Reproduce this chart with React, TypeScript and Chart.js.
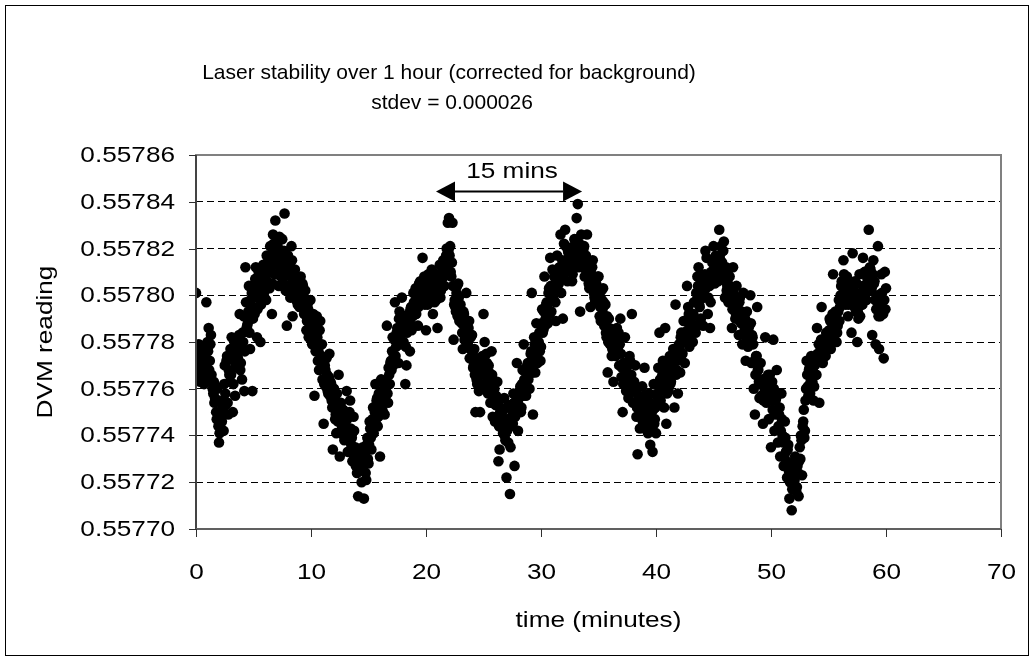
import { useEffect, useRef } from "react";
import { Chart, registerables } from "chart.js";

Chart.register(...registerables);

const titleLines = ["Laser stability over 1 hour (corrected for background)", "stdev = 0.000026"];
const xAxisTitle = "time (minutes)";
const yAxisTitle = "DVM reading";
const xTickValues = [0, 10, 20, 30, 40, 50, 60, 70];
const xTickLabels = ["0", "10", "20", "30", "40", "50", "60", "70"];
const yTickValues = [0.5577, 0.55772, 0.55774, 0.55776, 0.55778, 0.5578, 0.55782, 0.55784, 0.55786];
const yTickLabels = ["0.55770", "0.55772", "0.55774", "0.55776", "0.55778", "0.55780", "0.55782", "0.55784", "0.55786"];
const annotationLabel = "15 mins";
const annotationStartMin = 20.87;
const annotationEndMin = 33.57;
const annotationArrowReading = 0.5578444;
const annotationTextReading = 0.5578528;

// readings taken on the whole tenth of a minute
const sampleTimesA = [
  0, 0.1, 0.2, 0.3, 0.4, 0.5, 0.6, 0.7, 0.8, 0.9,
  1, 1.1, 1.2, 1.3, 1.4, 1.5, 1.6, 1.7, 1.8, 1.9,
  2, 2.1, 2.2, 2.3, 2.4, 2.5, 2.6, 2.7, 2.8, 2.9,
  3, 3.1, 3.2, 3.3, 3.4, 3.5, 3.6, 3.7, 3.8, 3.9,
  4, 4.1, 4.2, 4.3, 4.4, 4.5, 4.6, 4.7, 4.8, 4.9,
  5, 5.1, 5.2, 5.3, 5.4, 5.5, 5.6, 5.7, 5.8, 5.9,
  6, 6.1, 6.2, 6.3, 6.4, 6.5, 6.6, 6.7, 6.8, 6.9,
  7, 7.1, 7.2, 7.3, 7.4, 7.5, 7.6, 7.7, 7.8, 7.9,
  8, 8.1, 8.2, 8.3, 8.4, 8.5, 8.6, 8.7, 8.8, 8.9,
  9, 9.1, 9.2, 9.3, 9.4, 9.5, 9.6, 9.7, 9.8, 9.9,
  10, 10.1, 10.2, 10.3, 10.4, 10.5, 10.6, 10.7, 10.8, 10.9,
  11, 11.1, 11.2, 11.3, 11.4, 11.5, 11.6, 11.7, 11.8, 11.9,
  12, 12.1, 12.2, 12.3, 12.4, 12.5, 12.6, 12.7, 12.8, 12.9,
  13, 13.1, 13.2, 13.3, 13.4, 13.5, 13.6, 13.7, 13.8, 13.9,
  14, 14.1, 14.2, 14.3, 14.4, 14.5, 14.6, 14.7, 14.8, 14.9,
  15, 15.1, 15.2, 15.3, 15.4, 15.5, 15.6, 15.7, 15.8, 15.9,
  16, 16.1, 16.2, 16.3, 16.4, 16.5, 16.6, 16.7, 16.8, 16.9,
  17, 17.1, 17.2, 17.3, 17.4, 17.5, 17.6, 17.7, 17.8, 17.9,
  18, 18.1, 18.2, 18.3, 18.4, 18.5, 18.6, 18.7, 18.8, 18.9,
  19, 19.1, 19.2, 19.3, 19.4, 19.5, 19.6, 19.7, 19.8, 19.9,
  20, 20.1, 20.2, 20.3, 20.4, 20.5, 20.6, 20.7, 20.8, 20.9,
  21, 21.1, 21.2, 21.3, 21.4, 21.5, 21.6, 21.7, 21.8, 21.9,
  22, 22.1, 22.2, 22.3, 22.4, 22.5, 22.6, 22.7, 22.8, 22.9,
  23, 23.1, 23.2, 23.3, 23.4, 23.5, 23.6, 23.7, 23.8, 23.9,
  24, 24.1, 24.2, 24.3, 24.4, 24.5, 24.6, 24.7, 24.8, 24.9,
  25, 25.1, 25.2, 25.3, 25.4, 25.5, 25.6, 25.7, 25.8, 25.9,
  26, 26.1, 26.2, 26.3, 26.4, 26.5, 26.6, 26.7, 26.8, 26.9,
  27, 27.1, 27.2, 27.3, 27.4, 27.5, 27.6, 27.7, 27.8, 27.9,
  28, 28.1, 28.2, 28.3, 28.4, 28.5, 28.6, 28.7, 28.8, 28.9,
  29, 29.1, 29.2, 29.3, 29.4, 29.5, 29.6, 29.7, 29.8, 29.9,
  30, 30.1, 30.2, 30.3, 30.4, 30.5, 30.6, 30.7, 30.8, 30.9,
  31, 31.1, 31.2, 31.3, 31.4, 31.5, 31.6, 31.7, 31.8, 31.9,
  32, 32.1, 32.2, 32.3, 32.4, 32.5, 32.6, 32.7, 32.8, 32.9,
  33, 33.1, 33.2, 33.3, 33.4, 33.5, 33.6, 33.7, 33.8, 33.9,
  34, 34.1, 34.2, 34.3, 34.4, 34.5, 34.6, 34.7, 34.8, 34.9,
  35, 35.1, 35.2, 35.3, 35.4, 35.5, 35.6, 35.7, 35.8, 35.9,
  36, 36.1, 36.2, 36.3, 36.4, 36.5, 36.6, 36.7, 36.8, 36.9,
  37, 37.1, 37.2, 37.3, 37.4, 37.5, 37.6, 37.7, 37.8, 37.9,
  38, 38.1, 38.2, 38.3, 38.4, 38.5, 38.6, 38.7, 38.8, 38.9,
  39, 39.1, 39.2, 39.3, 39.4, 39.5, 39.6, 39.7, 39.8, 39.9,
  40, 40.1, 40.2, 40.3, 40.4, 40.5, 40.6, 40.7, 40.8, 40.9,
  41, 41.1, 41.2, 41.3, 41.4, 41.5, 41.6, 41.7, 41.8, 41.9,
  42, 42.1, 42.2, 42.3, 42.4, 42.5, 42.6, 42.7, 42.8, 42.9,
  43, 43.1, 43.2, 43.3, 43.4, 43.5, 43.6, 43.7, 43.8, 43.9,
  44, 44.1, 44.2, 44.3, 44.4, 44.5, 44.6, 44.7, 44.8, 44.9,
  45, 45.1, 45.2, 45.3, 45.4, 45.5, 45.6, 45.7, 45.8, 45.9,
  46, 46.1, 46.2, 46.3, 46.4, 46.5, 46.6, 46.7, 46.8, 46.9,
  47, 47.1, 47.2, 47.3, 47.4, 47.5, 47.6, 47.7, 47.8, 47.9,
  48, 48.1, 48.2, 48.3, 48.4, 48.5, 48.6, 48.7, 48.8, 48.9,
  49, 49.1, 49.2, 49.3, 49.4, 49.5, 49.6, 49.7, 49.8, 49.9,
  50, 50.1, 50.2, 50.3, 50.4, 50.5, 50.6, 50.7, 50.8, 50.9,
  51, 51.1, 51.2, 51.3, 51.4, 51.5, 51.6, 51.7, 51.8, 51.9,
  52, 52.1, 52.2, 52.3, 52.4, 52.5, 52.6, 52.7, 52.8, 52.9,
  53, 53.1, 53.2, 53.3, 53.4, 53.5, 53.6, 53.7, 53.8, 53.9,
  54, 54.1, 54.2, 54.3, 54.4, 54.5, 54.6, 54.7, 54.8, 54.9,
  55, 55.1, 55.2, 55.3, 55.4, 55.5, 55.6, 55.7, 55.8, 55.9,
  56, 56.1, 56.2, 56.3, 56.4, 56.5, 56.6, 56.7, 56.8, 56.9,
  57, 57.1, 57.2, 57.3, 57.4, 57.5, 57.6, 57.7, 57.8, 57.9,
  58, 58.1, 58.2, 58.3, 58.4, 58.5, 58.6, 58.7, 58.8, 58.9,
  59, 59.1, 59.2, 59.3, 59.4, 59.5, 59.6, 59.7, 59.8, 59.9,
  60,
];

const readingsA = [
  0.557801, 0.557776, 0.557768, 0.557771, 0.557764, 0.557766, 0.557773, 0.557762, 0.557769, 0.557797,
  0.557780, 0.557786, 0.557772, 0.557783, 0.557763, 0.557758, 0.557754, 0.557761, 0.557747, 0.557755,
  0.557737, 0.557744, 0.557748, 0.557752, 0.557742, 0.557770, 0.557753, 0.557774, 0.557749, 0.557766,
  0.557777, 0.557782, 0.557750, 0.557772, 0.557757, 0.557775, 0.557769, 0.557778, 0.557792, 0.557771,
  0.557764, 0.557780, 0.557759, 0.557812, 0.557786, 0.557788, 0.557804, 0.557777, 0.557795, 0.557759,
  0.557803, 0.557792, 0.557812, 0.557782, 0.557799, 0.557805, 0.557780, 0.557797, 0.557809, 0.557801,
  0.557812, 0.557798, 0.557806, 0.557815, 0.557803, 0.557810, 0.557792, 0.557826, 0.557819, 0.557832,
  0.557813, 0.557821, 0.557804, 0.557817, 0.557808, 0.557824, 0.557812, 0.557835, 0.557802, 0.557787,
  0.557817, 0.557810, 0.557799, 0.557821, 0.557791, 0.557806, 0.557811, 0.557798, 0.557806, 0.557801,
  0.557795, 0.557808, 0.557797, 0.557804, 0.557792, 0.557802, 0.557785, 0.557796, 0.557782, 0.557791,
  0.557788, 0.557779, 0.557792, 0.557757, 0.557776, 0.557791, 0.557772, 0.557768, 0.557789, 0.557774,
  0.557764, 0.557745, 0.557770, 0.557761, 0.557766, 0.557758, 0.557775, 0.557763, 0.557755, 0.557734,
  0.557760, 0.557747, 0.557741, 0.557752, 0.557766, 0.557731, 0.557754, 0.557744, 0.557751, 0.557738,
  0.557746, 0.557759, 0.557733, 0.557742, 0.557755, 0.557736, 0.557729, 0.557748, 0.557734, 0.557727,
  0.557724, 0.557714, 0.557733, 0.557729, 0.557720, 0.557735, 0.557713, 0.557730, 0.557721, 0.557739,
  0.557728, 0.557746, 0.557739, 0.557741, 0.557752, 0.557747, 0.557762, 0.557755, 0.557744, 0.557758,
  0.557731, 0.557764, 0.557751, 0.557757, 0.557749, 0.557760, 0.557787, 0.557754, 0.557766, 0.557771,
  0.557768, 0.557782, 0.557774, 0.557797, 0.557778, 0.557786, 0.557771, 0.557793, 0.557780, 0.557799,
  0.557784, 0.557791, 0.557762, 0.557770, 0.557788, 0.557792, 0.557776, 0.557795, 0.557787, 0.557801,
  0.557794, 0.557803, 0.557798, 0.557787, 0.557805, 0.557806, 0.557799, 0.557816, 0.557801, 0.557796,
  0.557785, 0.557804, 0.557809, 0.557800, 0.557807, 0.557811, 0.557792, 0.557803, 0.557809, 0.557798,
  0.557786, 0.557806, 0.557813, 0.557802, 0.557810, 0.557815, 0.557804, 0.557812, 0.557820, 0.557831,
  0.557833, 0.557821, 0.557808, 0.557831, 0.557781, 0.557798, 0.557793, 0.557804, 0.557805, 0.557789,
  0.557796, 0.557788, 0.557777, 0.557792, 0.557785, 0.557801, 0.557779, 0.557786, 0.557773, 0.557782,
  0.557783, 0.557769, 0.557777, 0.557750, 0.557764, 0.557772, 0.557759, 0.557750, 0.557766, 0.557774,
  0.557792, 0.557780, 0.557762, 0.557771, 0.557758, 0.557767, 0.557754, 0.557776, 0.557748, 0.557761,
  0.557746, 0.557757, 0.557763, 0.557729, 0.557734, 0.557752, 0.557745, 0.557741, 0.557756, 0.557738,
  0.557722, 0.557747, 0.557753, 0.557715, 0.557744, 0.557751, 0.557758, 0.557727, 0.557749, 0.557771,
  0.557742, 0.557756, 0.557761, 0.557752, 0.557768, 0.557779, 0.557763, 0.557757, 0.557770, 0.557764,
  0.557760, 0.557775, 0.557801, 0.557749, 0.557782, 0.557767, 0.557788, 0.557771, 0.557780, 0.557776,
  0.557778, 0.557794, 0.557785, 0.557808, 0.557790, 0.557797, 0.557788, 0.557803, 0.557816, 0.557793,
  0.557811, 0.557798, 0.557804, 0.557789, 0.557817, 0.557802, 0.557812, 0.557826, 0.557807, 0.557790,
  0.557822, 0.557828, 0.557815, 0.557806, 0.557818, 0.557811, 0.557820, 0.557806, 0.557816, 0.557824,
  0.557819, 0.557833, 0.557839, 0.557812, 0.557793, 0.557826, 0.557814, 0.557820, 0.557808, 0.557817,
  0.557826, 0.557811, 0.557803, 0.557795, 0.557809, 0.557815, 0.557801, 0.557797, 0.557805, 0.557799,
  0.557808, 0.557791, 0.557789, 0.557798, 0.557803, 0.557787, 0.557796, 0.557782, 0.557767, 0.557790,
  0.557779, 0.557785, 0.557777, 0.557763, 0.557781, 0.557774, 0.557786, 0.557778, 0.557770, 0.557790,
  0.557765, 0.557750, 0.557771, 0.557782, 0.557759, 0.557767, 0.557756, 0.557774, 0.557761, 0.557792,
  0.557754, 0.557763, 0.557770, 0.557748, 0.557732, 0.557757, 0.557743, 0.557752, 0.557761, 0.557747,
  0.557769, 0.557755, 0.557744, 0.557741, 0.557758, 0.557736, 0.557750, 0.557733, 0.557762, 0.557747,
  0.557741, 0.557758, 0.557769, 0.557784, 0.557755, 0.557763, 0.557772, 0.557752, 0.557786, 0.557745,
  0.557766, 0.557759, 0.557774, 0.557763, 0.557770, 0.557777, 0.557752, 0.557796, 0.557768, 0.557758,
  0.557779, 0.557767, 0.557784, 0.557775, 0.557789, 0.557771, 0.557782, 0.557804, 0.557795, 0.557778,
  0.557788, 0.557792, 0.557780, 0.557797, 0.557786, 0.557801, 0.557808, 0.557812, 0.557795, 0.557790,
  0.557803, 0.557787, 0.557799, 0.557819, 0.557816, 0.557792, 0.557807, 0.557786, 0.557810, 0.557814,
  0.557821, 0.557805, 0.557817, 0.557811, 0.557806, 0.557828, 0.557815, 0.557809, 0.557819, 0.557823,
  0.557799, 0.557812, 0.557804, 0.557797, 0.557808, 0.557801, 0.557786, 0.557812, 0.557794, 0.557790,
  0.557804, 0.557796, 0.557783, 0.557799, 0.557788, 0.557779, 0.557801, 0.557785, 0.557772, 0.557793,
  0.557778, 0.557787, 0.557800, 0.557771, 0.557782, 0.557760, 0.557749, 0.557774, 0.557795, 0.557768,
  0.557756, 0.557771, 0.557762, 0.557745, 0.557758, 0.557782, 0.557754, 0.557761, 0.557747, 0.557766,
  0.557735, 0.557763, 0.557781, 0.557742, 0.557755, 0.557768, 0.557737, 0.557749, 0.557731, 0.557758,
  0.557740, 0.557727, 0.557746, 0.557733, 0.557722, 0.557736, 0.557713, 0.557728, 0.557708, 0.557719,
  0.557724, 0.557731, 0.557716, 0.557727, 0.557714, 0.557735, 0.557740, 0.557723, 0.557746, 0.557739,
  0.557755, 0.557772, 0.557761, 0.557768, 0.557758, 0.557774, 0.557763, 0.557755, 0.557770, 0.557766,
  0.557786, 0.557773, 0.557754, 0.557778, 0.557795, 0.557771, 0.557780, 0.557776, 0.557784, 0.557779,
  0.557782, 0.557790, 0.557777, 0.557786, 0.557809, 0.557781, 0.557793, 0.557780, 0.557787, 0.557798,
  0.557795, 0.557804, 0.557799, 0.557815, 0.557802, 0.557796, 0.557808, 0.557791, 0.557805, 0.557800,
  0.557784, 0.557818, 0.557798, 0.557806, 0.557793, 0.557780, 0.557790, 0.557809, 0.557801, 0.557796,
  0.557816, 0.557804, 0.557810, 0.557798, 0.557807, 0.557828, 0.557812, 0.557802, 0.557783, 0.557815,
  0.557806, 0.557779, 0.557799, 0.557821, 0.557777, 0.557791, 0.557809, 0.557794, 0.557773, 0.557810,
  0.557803,
];

// readings taken half-way between those
const sampleTimesB = [
  0.05, 0.15, 0.25, 0.35, 0.45, 0.55, 0.65, 0.75, 0.85, 0.95,
  1.05, 1.15, 1.25, 1.35, 1.45, 1.55, 1.65, 1.75, 1.85, 1.95,
  2.05, 2.15, 2.25, 2.35, 2.45, 2.55, 2.65, 2.75, 2.85, 2.95,
  3.05, 3.15, 3.25, 3.35, 3.45, 3.55, 3.65, 3.75, 3.85, 3.95,
  4.05, 4.15, 4.25, 4.35, 4.45, 4.55, 4.65, 4.75, 4.85, 4.95,
  5.05, 5.15, 5.25, 5.35, 5.45, 5.55, 5.65, 5.75, 5.85, 5.95,
  6.05, 6.15, 6.25, 6.35, 6.45, 6.55, 6.65, 6.75, 6.85, 6.95,
  7.05, 7.15, 7.25, 7.35, 7.45, 7.55, 7.65, 7.75, 7.85, 7.95,
  8.05, 8.15, 8.25, 8.35, 8.45, 8.55, 8.65, 8.75, 8.85, 8.95,
  9.05, 9.15, 9.25, 9.35, 9.45, 9.55, 9.65, 9.75, 9.85, 9.95,
  10.05, 10.15, 10.25, 10.35, 10.45, 10.55, 10.65, 10.75, 10.85, 10.95,
  11.05, 11.15, 11.25, 11.35, 11.45, 11.55, 11.65, 11.75, 11.85, 11.95,
  12.05, 12.15, 12.25, 12.35, 12.45, 12.55, 12.65, 12.75, 12.85, 12.95,
  13.05, 13.15, 13.25, 13.35, 13.45, 13.55, 13.65, 13.75, 13.85, 13.95,
  14.05, 14.15, 14.25, 14.35, 14.45, 14.55, 14.65, 14.75, 14.85, 14.95,
  15.05, 15.15, 15.25, 15.35, 15.45, 15.55, 15.65, 15.75, 15.85, 15.95,
  16.05, 16.15, 16.25, 16.35, 16.45, 16.55, 16.65, 16.75, 16.85, 16.95,
  17.05, 17.15, 17.25, 17.35, 17.45, 17.55, 17.65, 17.75, 17.85, 17.95,
  18.05, 18.15, 18.25, 18.35, 18.45, 18.55, 18.65, 18.75, 18.85, 18.95,
  19.05, 19.15, 19.25, 19.35, 19.45, 19.55, 19.65, 19.75, 19.85, 19.95,
  20.05, 20.15, 20.25, 20.35, 20.45, 20.55, 20.65, 20.75, 20.85, 20.95,
  21.05, 21.15, 21.25, 21.35, 21.45, 21.55, 21.65, 21.75, 21.85, 21.95,
  22.05, 22.15, 22.25, 22.35, 22.45, 22.55, 22.65, 22.75, 22.85, 22.95,
  23.05, 23.15, 23.25, 23.35, 23.45, 23.55, 23.65, 23.75, 23.85, 23.95,
  24.05, 24.15, 24.25, 24.35, 24.45, 24.55, 24.65, 24.75, 24.85, 24.95,
  25.05, 25.15, 25.25, 25.35, 25.45, 25.55, 25.65, 25.75, 25.85, 25.95,
  26.05, 26.15, 26.25, 26.35, 26.45, 26.55, 26.65, 26.75, 26.85, 26.95,
  27.05, 27.15, 27.25, 27.35, 27.45, 27.55, 27.65, 27.75, 27.85, 27.95,
  28.05, 28.15, 28.25, 28.35, 28.45, 28.55, 28.65, 28.75, 28.85, 28.95,
  29.05, 29.15, 29.25, 29.35, 29.45, 29.55, 29.65, 29.75, 29.85, 29.95,
  30.05, 30.15, 30.25, 30.35, 30.45, 30.55, 30.65, 30.75, 30.85, 30.95,
  31.05, 31.15, 31.25, 31.35, 31.45, 31.55, 31.65, 31.75, 31.85, 31.95,
  32.05, 32.15, 32.25, 32.35, 32.45, 32.55, 32.65, 32.75, 32.85, 32.95,
  33.05, 33.15, 33.25, 33.35, 33.45, 33.55, 33.65, 33.75, 33.85, 33.95,
  34.05, 34.15, 34.25, 34.35, 34.45, 34.55, 34.65, 34.75, 34.85, 34.95,
  35.05, 35.15, 35.25, 35.35, 35.45, 35.55, 35.65, 35.75, 35.85, 35.95,
  36.05, 36.15, 36.25, 36.35, 36.45, 36.55, 36.65, 36.75, 36.85, 36.95,
  37.05, 37.15, 37.25, 37.35, 37.45, 37.55, 37.65, 37.75, 37.85, 37.95,
  38.05, 38.15, 38.25, 38.35, 38.45, 38.55, 38.65, 38.75, 38.85, 38.95,
  39.05, 39.15, 39.25, 39.35, 39.45, 39.55, 39.65, 39.75, 39.85, 39.95,
  40.05, 40.15, 40.25, 40.35, 40.45, 40.55, 40.65, 40.75, 40.85, 40.95,
  41.05, 41.15, 41.25, 41.35, 41.45, 41.55, 41.65, 41.75, 41.85, 41.95,
  42.05, 42.15, 42.25, 42.35, 42.45, 42.55, 42.65, 42.75, 42.85, 42.95,
  43.05, 43.15, 43.25, 43.35, 43.45, 43.55, 43.65, 43.75, 43.85, 43.95,
  44.05, 44.15, 44.25, 44.35, 44.45, 44.55, 44.65, 44.75, 44.85, 44.95,
  45.05, 45.15, 45.25, 45.35, 45.45, 45.55, 45.65, 45.75, 45.85, 45.95,
  46.05, 46.15, 46.25, 46.35, 46.45, 46.55, 46.65, 46.75, 46.85, 46.95,
  47.05, 47.15, 47.25, 47.35, 47.45, 47.55, 47.65, 47.75, 47.85, 47.95,
  48.05, 48.15, 48.25, 48.35, 48.45, 48.55, 48.65, 48.75, 48.85, 48.95,
  49.05, 49.15, 49.25, 49.35, 49.45, 49.55, 49.65, 49.75, 49.85, 49.95,
  50.05, 50.15, 50.25, 50.35, 50.45, 50.55, 50.65, 50.75, 50.85, 50.95,
  51.05, 51.15, 51.25, 51.35, 51.45, 51.55, 51.65, 51.75, 51.85, 51.95,
  52.05, 52.15, 52.25, 52.35, 52.45, 52.55, 52.65, 52.75, 52.85, 52.95,
  53.05, 53.15, 53.25, 53.35, 53.45, 53.55, 53.65, 53.75, 53.85, 53.95,
  54.05, 54.15, 54.25, 54.35, 54.45, 54.55, 54.65, 54.75, 54.85, 54.95,
  55.05, 55.15, 55.25, 55.35, 55.45, 55.55, 55.65, 55.75, 55.85, 55.95,
  56.05, 56.15, 56.25, 56.35, 56.45, 56.55, 56.65, 56.75, 56.85, 56.95,
  57.05, 57.15, 57.25, 57.35, 57.45, 57.55, 57.65, 57.75, 57.85, 57.95,
  58.05, 58.15, 58.25, 58.35, 58.45, 58.55, 58.65, 58.75, 58.85, 58.95,
  59.05, 59.15, 59.25, 59.35, 59.45, 59.55, 59.65, 59.75, 59.85, 59.95,
];

const readingsB = [
  0.557774, 0.557767, 0.557779, 0.557763, 0.557772, 0.557769, 0.557775, 0.557765, 0.557778, 0.557771,
  0.557776, 0.557768, 0.557779, 0.557766, 0.557760, 0.557763, 0.557756, 0.557750, 0.557760, 0.557744,
  0.557741, 0.557750, 0.557746, 0.557755, 0.557762, 0.557758, 0.557772, 0.557754, 0.557768, 0.557763,
  0.557766, 0.557775, 0.557762, 0.557779, 0.557770, 0.557780, 0.557773, 0.557783, 0.557768, 0.557777,
  0.557784, 0.557791, 0.557776, 0.557797, 0.557787, 0.557793, 0.557784, 0.557798, 0.557801, 0.557790,
  0.557795, 0.557807, 0.557800, 0.557794, 0.557810, 0.557803, 0.557796, 0.557808, 0.557813, 0.557799,
  0.557808, 0.557817, 0.557803, 0.557810, 0.557821, 0.557814, 0.557805, 0.557822, 0.557809, 0.557816,
  0.557818, 0.557809, 0.557825, 0.557814, 0.557811, 0.557807, 0.557819, 0.557814, 0.557804, 0.557816,
  0.557804, 0.557813, 0.557808, 0.557815, 0.557801, 0.557809, 0.557799, 0.557804, 0.557796, 0.557807,
  0.557802, 0.557796, 0.557805, 0.557799, 0.557793, 0.557797, 0.557789, 0.557794, 0.557786, 0.557798,
  0.557785, 0.557790, 0.557781, 0.557787, 0.557779, 0.557782, 0.557776, 0.557785, 0.557773, 0.557779,
  0.557770, 0.557762, 0.557768, 0.557773, 0.557759, 0.557765, 0.557757, 0.557762, 0.557752, 0.557760,
  0.557755, 0.557749, 0.557758, 0.557746, 0.557753, 0.557748, 0.557742, 0.557751, 0.557740, 0.557747,
  0.557740, 0.557747, 0.557738, 0.557750, 0.557743, 0.557739, 0.557732, 0.557742, 0.557735, 0.557730,
  0.557731, 0.557727, 0.557734, 0.557725, 0.557730, 0.557727, 0.557733, 0.557724, 0.557736, 0.557730,
  0.557736, 0.557743, 0.557734, 0.557747, 0.557741, 0.557750, 0.557745, 0.557756, 0.557748, 0.557753,
  0.557754, 0.557759, 0.557750, 0.557762, 0.557756, 0.557763, 0.557758, 0.557769, 0.557762, 0.557772,
  0.557776, 0.557770, 0.557781, 0.557774, 0.557784, 0.557783, 0.557790, 0.557779, 0.557788, 0.557784,
  0.557780, 0.557786, 0.557778, 0.557784, 0.557789, 0.557788, 0.557794, 0.557785, 0.557791, 0.557797,
  0.557796, 0.557792, 0.557800, 0.557795, 0.557802, 0.557800, 0.557805, 0.557797, 0.557808, 0.557803,
  0.557801, 0.557796, 0.557806, 0.557799, 0.557804, 0.557806, 0.557800, 0.557797, 0.557804, 0.557801,
  0.557804, 0.557809, 0.557799, 0.557807, 0.557811, 0.557808, 0.557814, 0.557817, 0.557810, 0.557819,
  0.557817, 0.557810, 0.557814, 0.557804, 0.557796, 0.557795, 0.557801, 0.557791, 0.557799, 0.557793,
  0.557790, 0.557784, 0.557793, 0.557781, 0.557787, 0.557786, 0.557780, 0.557789, 0.557777, 0.557783,
  0.557775, 0.557770, 0.557766, 0.557773, 0.557762, 0.557768, 0.557762, 0.557770, 0.557760, 0.557766,
  0.557773, 0.557767, 0.557775, 0.557765, 0.557770, 0.557764, 0.557758, 0.557766, 0.557755, 0.557760,
  0.557753, 0.557748, 0.557755, 0.557744, 0.557750, 0.557749, 0.557743, 0.557751, 0.557740, 0.557746,
  0.557742, 0.557737, 0.557745, 0.557735, 0.557748, 0.557745, 0.557754, 0.557748, 0.557757, 0.557752,
  0.557753, 0.557759, 0.557750, 0.557762, 0.557757, 0.557764, 0.557768, 0.557760, 0.557771, 0.557766,
  0.557770, 0.557776, 0.557767, 0.557773, 0.557779, 0.557774, 0.557780, 0.557777, 0.557784, 0.557772,
  0.557788, 0.557784, 0.557793, 0.557787, 0.557796, 0.557795, 0.557801, 0.557792, 0.557804, 0.557799,
  0.557800, 0.557808, 0.557797, 0.557806, 0.557810, 0.557805, 0.557812, 0.557801, 0.557815, 0.557809,
  0.557814, 0.557821, 0.557811, 0.557819, 0.557816, 0.557812, 0.557818, 0.557809, 0.557821, 0.557814,
  0.557817, 0.557824, 0.557815, 0.557822, 0.557818, 0.557819, 0.557812, 0.557821, 0.557815, 0.557810,
  0.557813, 0.557805, 0.557810, 0.557804, 0.557812, 0.557806, 0.557799, 0.557804, 0.557801, 0.557808,
  0.557800, 0.557795, 0.557802, 0.557794, 0.557797, 0.557789, 0.557784, 0.557791, 0.557780, 0.557786,
  0.557779, 0.557774, 0.557782, 0.557776, 0.557780, 0.557782, 0.557777, 0.557784, 0.557779, 0.557775,
  0.557769, 0.557762, 0.557771, 0.557764, 0.557767, 0.557770, 0.557764, 0.557772, 0.557766, 0.557763,
  0.557759, 0.557754, 0.557761, 0.557752, 0.557757, 0.557755, 0.557749, 0.557753, 0.557746, 0.557757,
  0.557752, 0.557747, 0.557756, 0.557749, 0.557754, 0.557748, 0.557743, 0.557751, 0.557745, 0.557752,
  0.557757, 0.557762, 0.557755, 0.557764, 0.557760, 0.557766, 0.557760, 0.557768, 0.557762, 0.557758,
  0.557764, 0.557769, 0.557762, 0.557771, 0.557767, 0.557768, 0.557774, 0.557766, 0.557772, 0.557777,
  0.557777, 0.557782, 0.557775, 0.557780, 0.557784, 0.557783, 0.557789, 0.557785, 0.557792, 0.557781,
  0.557790, 0.557785, 0.557792, 0.557787, 0.557784, 0.557798, 0.557804, 0.557796, 0.557802, 0.557799,
  0.557806, 0.557801, 0.557809, 0.557803, 0.557807, 0.557799, 0.557804, 0.557797, 0.557806, 0.557810,
  0.557810, 0.557815, 0.557808, 0.557816, 0.557813, 0.557817, 0.557821, 0.557814, 0.557819, 0.557812,
  0.557806, 0.557802, 0.557809, 0.557800, 0.557804, 0.557798, 0.557794, 0.557801, 0.557796, 0.557792,
  0.557795, 0.557790, 0.557797, 0.557789, 0.557793, 0.557788, 0.557783, 0.557790, 0.557785, 0.557781,
  0.557786, 0.557780, 0.557788, 0.557783, 0.557779, 0.557772, 0.557766, 0.557774, 0.557768, 0.557763,
  0.557762, 0.557757, 0.557764, 0.557755, 0.557760, 0.557764, 0.557758, 0.557766, 0.557760, 0.557755,
  0.557758, 0.557751, 0.557760, 0.557749, 0.557756, 0.557750, 0.557744, 0.557752, 0.557742, 0.557747,
  0.557737, 0.557731, 0.557739, 0.557729, 0.557734, 0.557725, 0.557720, 0.557727, 0.557717, 0.557723,
  0.557721, 0.557726, 0.557718, 0.557724, 0.557729, 0.557730, 0.557738, 0.557744, 0.557751, 0.557742,
  0.557760, 0.557766, 0.557757, 0.557769, 0.557763, 0.557764, 0.557769, 0.557761, 0.557772, 0.557766,
  0.557775, 0.557779, 0.557772, 0.557781, 0.557777, 0.557776, 0.557781, 0.557774, 0.557783, 0.557778,
  0.557785, 0.557789, 0.557784, 0.557792, 0.557787, 0.557786, 0.557791, 0.557784, 0.557793, 0.557789,
  0.557800, 0.557806, 0.557798, 0.557809, 0.557803, 0.557799, 0.557804, 0.557796, 0.557802, 0.557798,
  0.557797, 0.557803, 0.557795, 0.557801, 0.557805, 0.557793, 0.557798, 0.557791, 0.557800, 0.557796,
  0.557804, 0.557810, 0.557801, 0.557808, 0.557806, 0.557806, 0.557811, 0.557803, 0.557809, 0.557805,
  0.557798, 0.557794, 0.557800, 0.557791, 0.557796, 0.557796, 0.557801, 0.557792, 0.557798, 0.557794,
];

const AXIS_FONT = '"Liberation Sans", Arial, sans-serif';
const TEXT_STRETCH = 1.19;

function drawText(
  ctx: CanvasRenderingContext2D,
  text: string,
  x: number,
  y: number,
  align: CanvasTextAlign,
  stretch: number,
  rotate = 0
) {
  ctx.save();
  ctx.translate(x, y);
  if (rotate) ctx.rotate(rotate);
  ctx.scale(stretch, 1);
  ctx.textAlign = align;
  ctx.textBaseline = "middle";
  ctx.fillText(text, 0, 0);
  ctx.restore();
}

const decorPlugin = {
  id: "decor",
  afterDraw(chart: any) {
    const ctx: CanvasRenderingContext2D = chart.ctx;
    const xs = chart.scales.x;
    const ys = chart.scales.y;
    const { left, right, top, bottom } = chart.chartArea;
    ctx.save();
    // outer chart border
    ctx.strokeStyle = "#000";
    ctx.lineWidth = 1;
    ctx.strokeRect(5.5, 5.5, 1023, 650);
    // plot frame
    ctx.strokeStyle = "#808080";
    ctx.lineWidth = 2;
    ctx.strokeRect(left, top, right - left, bottom - top);
    // value axis line
    ctx.strokeStyle = "#303030";
    ctx.lineWidth = 1.5;
    ctx.beginPath();
    ctx.moveTo(left, top);
    ctx.lineTo(left, bottom);
    ctx.stroke();
    // time axis line
    ctx.strokeStyle = "#606060";
    ctx.lineWidth = 2;
    ctx.beginPath();
    ctx.moveTo(left, bottom);
    ctx.lineTo(right, bottom);
    ctx.stroke();

    ctx.fillStyle = "#000";
    ctx.font = `22px ${AXIS_FONT}`;
    ctx.strokeStyle = "#303030";
    ctx.lineWidth = 1;
    yTickValues.forEach((v, i) => {
      const py = Math.round(ys.getPixelForValue(v)) + 0.5;
      ctx.beginPath();
      ctx.moveTo(left - 7, py);
      ctx.lineTo(left, py);
      ctx.stroke();
      drawText(ctx, yTickLabels[i], left - 21, py, "right", TEXT_STRETCH);
    });
    xTickValues.forEach((v, i) => {
      const px = Math.round(xs.getPixelForValue(v)) + 0.5;
      ctx.beginPath();
      ctx.moveTo(px, bottom);
      ctx.lineTo(px, bottom + 8);
      ctx.stroke();
      drawText(ctx, xTickLabels[i], px, bottom + 44, "center", TEXT_STRETCH);
    });
    drawText(ctx, xAxisTitle, (left + right) / 2, bottom + 92, "center", TEXT_STRETCH);
    drawText(ctx, yAxisTitle, 46, (top + bottom) / 2, "center", TEXT_STRETCH, -Math.PI / 2);

    // chart title
    ctx.font = `21px ${AXIS_FONT}`;
    drawText(ctx, titleLines[0], 449, 73, "center", 1);
    drawText(ctx, titleLines[1], 452, 103, "center", 1);
    ctx.font = `22px ${AXIS_FONT}`;

    // "15 mins" annotation
    const x1 = xs.getPixelForValue(annotationStartMin);
    const x2 = xs.getPixelForValue(annotationEndMin);
    const ay = ys.getPixelForValue(annotationArrowReading);
    const head = 19;
    const half = 10;
    ctx.strokeStyle = "#000";
    ctx.lineWidth = 2;
    ctx.beginPath();
    ctx.moveTo(x1 + head, ay);
    ctx.lineTo(x2 - head, ay);
    ctx.stroke();
    ctx.beginPath();
    ctx.moveTo(x1, ay);
    ctx.lineTo(x1 + head, ay - half);
    ctx.lineTo(x1 + head, ay + half);
    ctx.closePath();
    ctx.fill();
    ctx.beginPath();
    ctx.moveTo(x2, ay);
    ctx.lineTo(x2 - head, ay - half);
    ctx.lineTo(x2 - head, ay + half);
    ctx.closePath();
    ctx.fill();
    drawText(ctx, annotationLabel, (x1 + x2) / 2 + 3, ys.getPixelForValue(annotationTextReading), "center", TEXT_STRETCH);
    ctx.restore();
  },
};

export default function App() {
  const canvasRef = useRef<HTMLCanvasElement | null>(null);

  useEffect(() => {
    document.body.style.margin = "0";
    const canvas = canvasRef.current;
    if (!canvas) return;
    const points = [
      ...sampleTimesA.map((t, i) => ({ x: t, y: readingsA[i] })),
      ...sampleTimesB.map((t, i) => ({ x: t, y: readingsB[i] })),
    ];
    const chart = new Chart(canvas, {
      type: "scatter",
      data: {
        datasets: [
          {
            label: "DVM reading",
            data: points,
            backgroundColor: "#000",
            borderColor: "#000",
            borderWidth: 0,
            pointRadius: 5.3,
            pointHoverRadius: 5.3,
          },
        ],
      },
      options: {
        responsive: false,
        animation: false,
        devicePixelRatio: 1,
        layout: { padding: { left: 196, top: 155, right: 33, bottom: 132 } },
        plugins: {
          legend: { display: false },
          tooltip: { enabled: false },
          title: { display: false },
        },
        scales: {
          x: {
            type: "linear",
            min: 0,
            max: 70,
            ticks: { display: false, stepSize: 10 },
            grid: { display: false, drawTicks: false },
            border: { display: false },
          },
          y: {
            type: "linear",
            min: 0.5577,
            max: 0.55786,
            ticks: { display: false, stepSize: 0.00002 },
            grid: { color: "#000", lineWidth: 1, drawTicks: false },
            border: { display: false, dash: [7, 4] },
          },
        },
      },
      plugins: [decorPlugin],
    });
    return () => chart.destroy();
  }, []);

  return (
    <div style={{ width: 1034, height: 661, background: "#fff" }}>
      <canvas ref={canvasRef} width={1034} height={661} style={{ display: "block" }} />
    </div>
  );
}
